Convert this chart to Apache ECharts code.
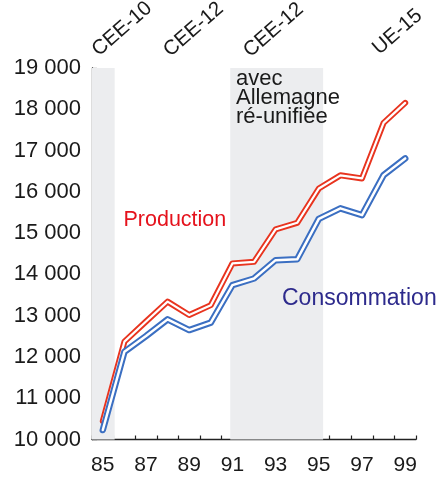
<!DOCTYPE html>
<html><head><meta charset="utf-8">
<script src="https://cdn.jsdelivr.net/npm/echarts@6/dist/echarts.min.js"></script>
<style>html,body{margin:0;padding:0;background:#fff}#c{width:438px;height:478px}</style>
</head><body><div id="c"></div>
<script>
const years = ['85','86','87','88','89','90','91','92','93','94','95','96','97','98','99'];
const production = [10450, 12370, 12860, 13340, 13015, 13255, 14265, 14305, 15090, 15250, 16080, 16400, 16325, 17670, 18155];
const consommation = [10230, 12125, 12505, 12910, 12650, 12830, 13740, 13900, 14345, 14365, 15345, 15600, 15435, 16405, 16810];
const periods = [[84.5, 85.55], [90.9, 95.2]];
const periodLabels = ['CEE-10', 'CEE-12', 'CEE-12', 'UE-15'];
const noteLines = ['avec', 'Allemagne', 'ré-unifiée'];
const seriesNames = ['Production', 'Consommation'];

const FONT = '"Liberation Sans", Arial, sans-serif';
const chart = echarts.init(document.getElementById('c'));
const fmt = v => String(v).replace(/\B(?=(\d{3})+(?!\d))/g, ' ');

const topPos = [[95, 52.5], [166.5, 53], [246.5, 53.5], [375.5, 51]];
const graphics = periodLabels.map((t, i) => ({
  type: 'text', x: topPos[i][0], y: topPos[i][1], rotation: 41 * Math.PI / 180, z: 100,
  style: { text: t, fontSize: 20.5, fontFamily: FONT, fill: '#1a1a1a', textAlign: 'left', textVerticalAlign: 'middle', align: 'left', verticalAlign: 'middle' }
}));
noteLines.forEach((t, i) => graphics.push({
  type: 'text', x: 236, y: 78.5 + i * 19.3, z: 100,
  style: { text: t, fontSize: 22, fontFamily: FONT, fill: '#1a1a1a', textAlign: 'left', textVerticalAlign: 'middle', align: 'left', verticalAlign: 'middle' }
}));
graphics.push({ type: 'text', x: 123.5, y: 220.5, z: 100,
  style: { text: seriesNames[0], fontSize: 21.5, fontFamily: FONT, fill: '#e5121c', textAlign: 'left', textVerticalAlign: 'middle', align: 'left', verticalAlign: 'middle' } });
graphics.push({ type: 'text', x: 282, y: 298.8, z: 100,
  style: { text: seriesNames[1], fontSize: 23, fontFamily: FONT, fill: '#2d2a8c', textAlign: 'left', textVerticalAlign: 'middle', align: 'left', verticalAlign: 'middle' } });

function line(data, color, width, z) {
  return { type: 'line', xAxisIndex: 0, yAxisIndex: 0, data: data, symbol: 'none', silent: true, z: z,
    lineStyle: { color: color, width: width, cap: 'round', join: 'round' } };
}

chart.setOption({
  animation: false,
  backgroundColor: '#fff',
  grid: { left: 92, right: 22, top: 68, bottom: 38.5 },
  xAxis: [{
    type: 'category', data: years, boundaryGap: true,
    axisLine: { lineStyle: { color: '#222', width: 1.3 } },
    axisTick: { show: true, inside: true, length: 4, interval: 0, lineStyle: { color: '#222', width: 1.2 } },
    axisLabel: { interval: 1, fontSize: 21, fontFamily: FONT, color: '#1a1a1a', margin: 15 },
    splitLine: { show: false }
  }, {
    type: 'value', min: 84.5, max: 99.5, show: false
  }],
  yAxis: {
    type: 'value', min: 10000, max: 19000, interval: 1000,
    axisLine: { show: true, lineStyle: { color: '#222', width: 1.3 } },
    axisTick: { show: true, inside: true, length: 5, lineStyle: { color: '#222', width: 1.2 } },
    axisLabel: { fontSize: 22, fontFamily: FONT, color: '#1a1a1a', margin: 11, formatter: fmt },
    splitLine: { show: false }
  },
  graphic: graphics,
  series: [
    { type: 'line', xAxisIndex: 1, yAxisIndex: 0, data: [[85, 10000]], symbol: 'none', silent: true, z: 1,
      lineStyle: { opacity: 0 },
      markArea: { silent: true, itemStyle: { color: '#ecedef' },
        data: periods.map(p => [{ xAxis: p[0] }, { xAxis: p[1] }]) } },
    line(production, '#e8341f', 6, 3),
    line(production, '#ffffff', 2.2, 4),
    line(consommation, '#3b6fc2', 6.5, 5),
    line(consommation, '#ffffff', 2.5, 6)
  ]
});
</script></body></html>
